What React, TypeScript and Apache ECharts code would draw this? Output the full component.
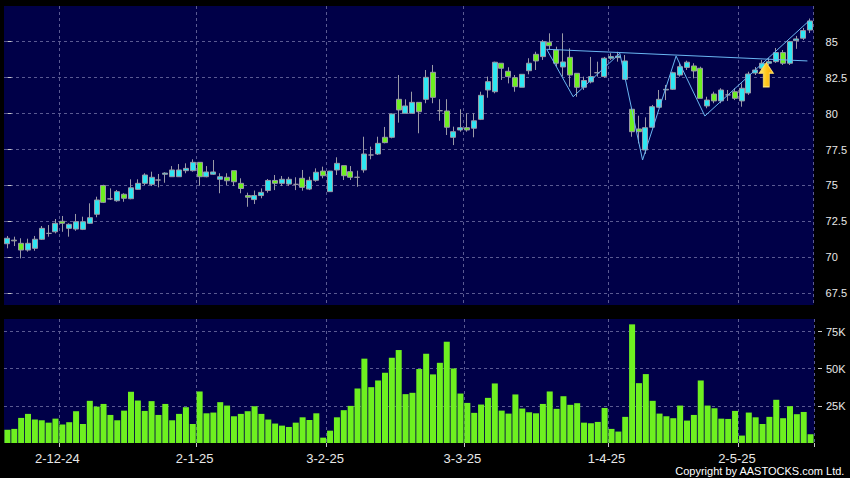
import React, { useEffect, useRef } from "react";
import * as echarts from "echarts";

// Trading days (HK market), grouped by month-year suffix
const tradingDays: [string, number[]][] = [
  ["11-24", [20, 21, 22, 25, 26, 27, 28, 29]],
  ["12-24", [2, 3, 4, 5, 6, 9, 10, 11, 12, 13, 16, 17, 18, 19, 20, 23, 24, 27, 30, 31]],
  ["1-25", [2, 3, 6, 7, 8, 9, 10, 13, 14, 15, 16, 17, 20, 21, 22, 23, 24, 27, 28]],
  ["2-25", [3, 4, 5, 6, 7, 10, 11, 12, 13, 14, 17, 18, 19, 20, 21, 24, 25, 26, 27, 28]],
  ["3-25", [3, 4, 5, 6, 7, 10, 11, 12, 13, 14, 17, 18, 19, 20, 21, 24, 25, 26, 27, 28, 31]],
  ["4-25", [1, 2, 3, 7, 8, 9, 10, 11, 14, 15, 16, 17, 22, 23, 24, 25, 28, 29, 30]],
  ["5-25", [2, 6, 7, 8, 9, 12, 13, 14, 15, 16, 19]],
];
const dates: string[] = tradingDays.flatMap(([m, ds]) => ds.map((d) => `${d}-${m}`));
const labelDates = ["2-12-24", "2-1-25", "3-2-25", "3-3-25", "1-4-25", "2-5-25"];

const opens = [
  70.95, 71.2, 70.98, 70.51, 70.63, 71.26, 71.67, 71.78, 72.51, 72.02,
  71.97, 71.95, 72.37, 73.0, 75.0, 74.07, 73.94, 74.39, 74.08, 74.73,
  75.15, 75.08, 75.38, 75.78, 75.61, 75.61, 76.03, 76.03, 76.61, 75.61,
  75.78, 75.43, 75.57, 76.03, 75.15, 74.3, 74.02, 74.3, 74.65, 75.35,
  75.15, 75.1, 75.08, 75.5, 74.75, 75.36, 76.0, 74.57, 76.08, 76.38,
  75.96, 75.57, 76.08, 77.12, 77.19, 78.35, 78.35, 80.99, 80.02, 80.02,
  80.78, 80.99, 82.87, 80.2, 80.18, 78.35, 78.86, 79.02, 78.98, 79.6,
  81.64, 81.52, 83.5, 82.94, 82.5, 81.83, 82.98, 84.12, 83.96, 84.96,
  84.42, 83.24, 83.91, 82.8, 81.83, 82.2, 82.84, 82.57, 83.85, 83.89,
  82.38, 80.3, 78.93, 77.47, 79.05, 80.44, 81.64, 81.69, 82.68, 83.21,
  83.31, 83.15, 80.53, 81.36, 80.88, 81.3, 81.52, 80.88, 81.43, 82.82,
  83.15, 83.5, 83.61, 84.24, 83.5, 85.07, 85.24, 85.81,
];
const closes = [
  71.33, 71.15, 70.51, 70.98, 71.26, 72.02, 71.67, 72.37, 72.37, 72.3,
  72.48, 72.48, 72.76, 73.99, 73.83, 74.07, 74.57, 74.11, 74.84, 75.15,
  75.73, 75.57, 75.38, 75.86, 76.08, 76.08, 76.19, 76.61, 75.61, 75.94,
  75.94, 75.61, 75.33, 75.26, 74.79, 74.18, 74.3, 74.52, 75.35, 75.15,
  75.43, 75.43, 75.08, 74.87, 75.36, 75.92, 75.68, 76.0, 76.54, 75.68,
  75.57, 75.57, 77.19, 77.12, 77.93, 77.98, 79.97, 80.25, 80.53, 80.78,
  80.13, 82.52, 81.13, 80.2, 79.05, 78.74, 79.02, 78.86, 79.5, 81.27,
  82.22, 83.57, 83.15, 82.57, 81.87, 82.73, 83.5, 83.66, 85.0, 84.72,
  83.5, 83.59, 82.68, 81.83, 82.3, 82.57, 82.84, 83.85, 83.96, 84.0,
  83.66, 78.74, 78.74, 79.02, 80.48, 80.99, 81.69, 82.84, 83.26, 83.57,
  82.96, 81.06, 80.94, 80.88, 81.64, 81.3, 81.06, 81.76, 82.75, 83.03,
  83.5, 83.61, 84.24, 83.5, 85.0, 85.19, 85.77, 86.44,
];
const lows = [
  70.63, 70.79, 69.93, 70.4, 70.46, 71.21, 71.44, 71.67, 71.78, 71.44,
  71.85, 71.9, 72.32, 72.79, 73.78, 73.99, 73.87, 73.87, 74.04, 74.69,
  75.03, 74.96, 74.87, 75.19, 75.61, 75.61, 75.85, 75.96, 74.98, 75.57,
  75.73, 74.46, 75.03, 74.96, 74.46, 73.52, 73.71, 74.11, 74.5, 74.68,
  74.96, 74.96, 74.68, 74.64, 74.68, 75.26, 75.5, 74.55, 75.73, 75.38,
  75.38, 74.91, 75.89, 76.82, 77.12, 77.93, 78.28, 79.37, 80.02, 80.02,
  78.63, 80.72, 80.72, 79.5, 78.51, 77.81, 78.74, 78.74, 78.35, 79.55,
  81.1, 81.41, 82.34, 82.1, 81.52, 81.83, 82.73, 83.03, 83.73, 84.42,
  83.26, 82.57, 81.87, 81.17, 81.64, 82.1, 82.57, 82.48, 83.73, 83.61,
  82.34, 78.39, 77.93, 77.2, 78.98, 80.39, 80.94, 81.64, 82.57, 83.03,
  82.45, 81.06, 80.37, 80.72, 80.72, 80.88, 80.94, 80.48, 81.3, 82.68,
  83.03, 83.38, 83.52, 83.38, 83.38, 84.5, 85.12, 85.6,
];
const highs = [
  71.49, 71.44, 71.33, 71.3, 71.49, 72.18, 72.25, 72.67, 72.88, 72.37,
  73.02, 72.83, 73.76, 74.22, 75.05, 74.8, 74.69, 74.46, 75.43, 75.43,
  75.85, 75.96, 75.8, 75.92, 76.35, 76.49, 76.54, 76.82, 76.61, 76.35,
  76.77, 75.85, 75.85, 76.03, 75.5, 74.5, 74.65, 74.8, 75.45, 75.73,
  75.66, 75.6, 75.57, 76.08, 75.61, 76.19, 76.31, 76.02, 76.96, 76.38,
  76.35, 76.03, 78.39, 77.7, 78.39, 79.07, 80.01, 82.68, 80.99, 81.52,
  80.78, 83.03, 83.38, 81.0, 81.0, 79.09, 80.3, 80.02, 80.02, 81.52,
  82.57, 83.61, 83.5, 83.22, 82.68, 82.75, 83.85, 84.3, 85.12, 85.58,
  84.65, 85.58, 84.54, 82.8, 82.57, 83.94, 83.61, 83.94, 84.2, 84.3,
  84.07, 80.3, 79.85, 79.74, 80.6, 81.64, 81.99, 82.91, 83.5, 83.68,
  83.5, 83.26, 81.17, 81.52, 81.76, 81.64, 81.76, 82.1, 82.91, 83.24,
  83.73, 83.87, 84.56, 84.42, 85.05, 85.4, 85.95, 86.61,
];
// Volume in thousands
const volumes = [
  9.0, 9.5, 16.9, 19.6, 15.8, 15.3, 13.7, 16.4, 12.4, 14.0,
  21.4, 12.8, 28.4, 24.5, 26.3, 18.9, 15.3, 21.8, 34.5, 28.6,
  21.6, 28.2, 18.9, 26.3, 15.3, 19.6, 24.1, 12.8, 34.7, 20.0,
  20.5, 27.5, 25.2, 18.0, 19.6, 21.4, 24.8, 19.6, 15.8, 13.1,
  11.7, 10.8, 13.7, 17.3, 15.5, 20.0, 3.6, 8.3, 17.3, 22.1,
  25.0, 36.7, 56.8, 37.6, 42.1, 47.3, 57.4, 62.6, 32.9, 33.8,
  49.8, 60.1, 46.2, 54.0, 68.2, 50.2, 33.3, 27.0, 20.3, 25.9,
  30.4, 40.1, 21.8, 19.8, 32.7, 23.2, 20.7, 20.0, 26.3, 34.7,
  23.0, 31.5, 25.7, 26.8, 13.7, 13.3, 14.2, 23.6, 9.5, 7.7,
  17.6, 79.9, 40.3, 46.4, 28.4, 19.8, 18.0, 16.7, 25.2, 15.1,
  18.9, 42.1, 25.2, 23.4, 16.4, 16.2, 21.6, 5.0, 20.5, 17.3,
  12.8, 17.6, 29.1, 16.7, 24.8, 19.4, 20.9, 5.9,
];
const priceTicks = [67.5, 70, 72.5, 75, 77.5, 80, 82.5, 85];
const volumeTicks = [25, 50, 75];

// Drawn pattern lines (bar index, price)
const patternX = [78.6, 82.45, 89.26, 92.57, 97.46, 101.65, 116.95];
const patternY = [84.47, 81.17, 84.19, 76.77, 84.0, 79.83, 86.5];
const necklineX = [78.6, 116.6];
const necklineY = [84.47, 83.66];
const arrowPoint = [110.6, 82.7];

const NAVY = "#000048";
const CYAN = "#2ee6f2";
const GREEN = "#6ef020";
const WICK = "#9a9aa6";
const GRIDC = "#5a5a92";
const TEXTC = "#e8e8e8";
const FONT = "Liberation Sans, Arial, sans-serif";

const isMonthStart = (i: number) => labelDates.includes(dates[i]);

export default function App() {
  const ref = useRef<HTMLDivElement>(null);
  useEffect(() => {
    if (!ref.current) return;
    const chart = echarts.init(ref.current, null, { renderer: "svg" });
    const dashed = { show: true, lineStyle: { color: GRIDC, type: [3, 3] as any, width: 1 } };
    const option: any = {
      animation: false,
      backgroundColor: "#000000",
      grid: [
        { left: 4, top: 6, width: 810, height: 299, show: true, backgroundColor: NAVY, borderWidth: 0 },
        { left: 4, top: 319, width: 810, height: 124, show: true, backgroundColor: NAVY, borderWidth: 0 },
      ],
      xAxis: [
        {
          type: "category",
          gridIndex: 0,
          data: dates,
          boundaryGap: true,
          axisLine: { show: false },
          axisTick: { show: false },
          axisLabel: { show: false },
          splitLine: { ...dashed, interval: (i: number) => isMonthStart(i) },
        },
        {
          type: "category",
          gridIndex: 1,
          data: dates,
          boundaryGap: true,
          axisLine: { show: false },
          axisTick: {
            show: true,
            interval: (i: number) => isMonthStart(i),
            length: 4,
            lineStyle: { color: "#c8c8c8" },
          },
          axisLabel: {
            interval: (i: number) => isMonthStart(i),
            color: TEXTC,
            fontSize: 13,
            fontFamily: FONT,
            margin: 9,
            padding: [0, 10, 0, 0],
          },
          splitLine: { ...dashed, interval: (i: number) => isMonthStart(i) },
        },
        { type: "value", gridIndex: 0, min: -0.5, max: 117.5, show: false },
      ],
      yAxis: [
        {
          type: "value",
          gridIndex: 0,
          position: "right",
          min: 66.69,
          max: 87.48,
          offset: 4,
          axisLine: { show: false },
          axisTick: { show: true, length: 4, customValues: priceTicks, lineStyle: { color: "#c8c8c8" } },
          axisLabel: { customValues: priceTicks, color: TEXTC, fontSize: 11, fontFamily: FONT, margin: 8 },
          splitLine: dashed,
        },
        {
          type: "value",
          gridIndex: 1,
          position: "right",
          min: 0,
          max: 83.5,
          offset: 4,
          axisLine: { show: false },
          axisTick: { show: true, length: 4, customValues: volumeTicks, lineStyle: { color: "#c8c8c8" } },
          axisLabel: {
            customValues: volumeTicks,
            color: TEXTC,
            fontSize: 11,
            fontFamily: FONT,
            margin: 8,
            formatter: (v: number) => `${v}K`,
          },
          splitLine: dashed,
        },
      ],
      series: [
        {
          type: "candlestick",
          xAxisIndex: 0,
          yAxisIndex: 0,
          barWidth: 5.5,
          data: dates.map((_, i) => [opens[i], closes[i], lows[i], highs[i]]),
          itemStyle: {
            color: CYAN,
            color0: GREEN,
            borderColor: WICK,
            borderColor0: WICK,
            borderColorDoji: WICK,
            borderWidth: 1,
          },
        },
        {
          type: "bar",
          xAxisIndex: 1,
          yAxisIndex: 1,
          barWidth: 6,
          data: volumes,
          itemStyle: { color: GREEN },
        },
        {
          type: "line",
          xAxisIndex: 2,
          yAxisIndex: 0,
          symbol: "none",
          data: patternX.map((x, i) => [x, patternY[i]]),
          lineStyle: { color: "#6ab6f2", width: 1 },
          z: 5,
        },
        {
          type: "line",
          xAxisIndex: 2,
          yAxisIndex: 0,
          symbol: "none",
          data: necklineX.map((x, i) => [x, necklineY[i]]),
          lineStyle: { color: "#6ab6f2", width: 1 },
          z: 5,
        },
        {
          type: "scatter",
          xAxisIndex: 2,
          yAxisIndex: 0,
          symbol: "path://M7,0 L14,10 L10,10 L10,23 L4,23 L4,10 L0,10 Z",
          symbolSize: [14, 24],
          data: [arrowPoint],
          itemStyle: {
            color: new echarts.graphic.LinearGradient(0, 0, 1, 0, [
              { offset: 0, color: "#fff07a" },
              { offset: 0.5, color: "#ffc81e" },
              { offset: 1, color: "#ffa800" },
            ]),
            borderColor: "#ffe066",
            borderWidth: 1,
            opacity: 1,
          },
          z: 6,
        },
      ],
      graphic: [
        {
          type: "text",
          right: 5,
          top: 465,
          style: {
            text: "Copyright by AASTOCKS.com Ltd.",
            fill: "#ffffff",
            font: `11px ${FONT}`,
          },
        },
      ],
    };
    chart.setOption(option);
    return () => chart.dispose();
  }, []);
  return (
    <div
      ref={ref}
      style={{ position: "fixed", left: 0, top: 0, width: 850, height: 478, background: "#000" }}
    />
  );
}
